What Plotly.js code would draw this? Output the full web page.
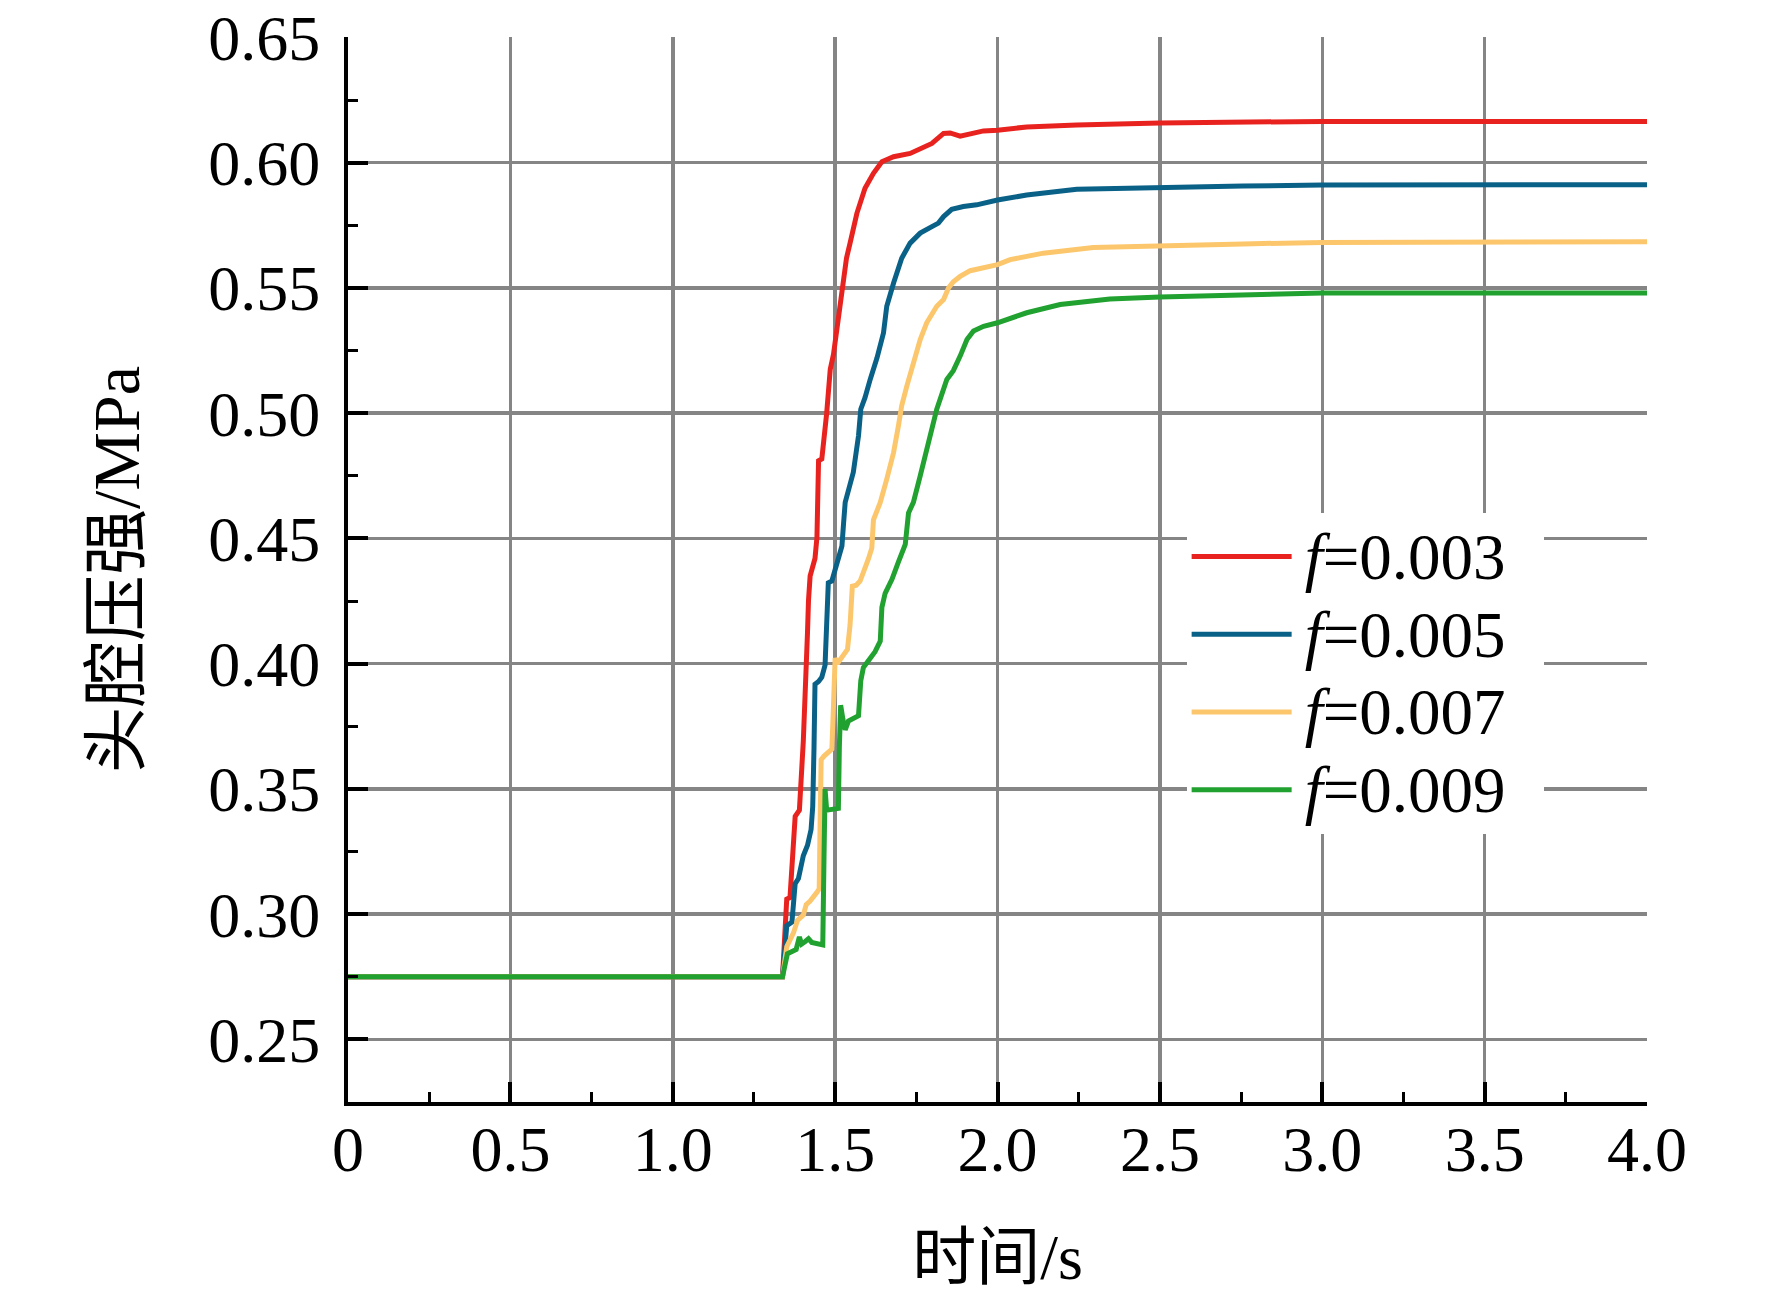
<!DOCTYPE html>
<html>
<head>
<meta charset="utf-8">
<script src="https://cdn.plot.ly/plotly-3.0.1.min.js"></script>
<style>
  html, body { margin: 0; padding: 0; background: #fff; }
  #chart { width: 1772px; height: 1296px; }
</style>
</head>
<body>
<div id="chart"></div>
<script>
// ── data ─────────────────────────────────────────────────────────────────────
const LABELS = ['0.003', '0.005', '0.007', '0.009'];
const COLORS = ['#e8231f', '#0a6187', '#fcc76c', '#21a12f'];

const t003 = [0, 1.338, 1.351, 1.361, 1.377, 1.390, 1.402, 1.408, 1.415, 1.418, 1.423, 1.438, 1.444, 1.449, 1.459, 1.474, 1.485, 1.495, 1.503, 1.513, 1.525, 1.535, 1.546, 1.567, 1.592, 1.618, 1.644, 1.680, 1.731, 1.798, 1.834, 1.854, 1.885, 1.916, 1.957, 2.0, 2.09, 2.244, 2.5, 3.0, 4.0];
const p003 = [0.275, 0.275, 0.306, 0.3066, 0.339, 0.3415, 0.369, 0.386, 0.4127, 0.4253, 0.435, 0.442, 0.4504, 0.481, 0.4817, 0.500, 0.5175, 0.5235, 0.5308, 0.5387, 0.5493, 0.5619, 0.5679, 0.5798, 0.5898, 0.5958, 0.6004, 0.6024, 0.6037, 0.6077, 0.6117, 0.6119, 0.6106, 0.6117, 0.6127, 0.613, 0.6143, 0.6151, 0.6159, 0.6165, 0.6165];

const t005 = [0, 1.338, 1.351, 1.367, 1.377, 1.387, 1.402, 1.415, 1.426, 1.431, 1.435, 1.438, 1.449, 1.459, 1.469, 1.474, 1.479, 1.490, 1.5, 1.510, 1.521, 1.526, 1.531, 1.556, 1.572, 1.579, 1.592, 1.608, 1.629, 1.649, 1.659, 1.680, 1.705, 1.731, 1.762, 1.798, 1.818, 1.834, 1.859, 1.895, 1.936, 2.0, 2.09, 2.244, 2.5, 2.756, 3.0, 4.0];
const p005 = [0.275, 0.275, 0.2954, 0.2968, 0.3122, 0.3142, 0.3233, 0.3275, 0.3338, 0.3429, 0.3666, 0.3918, 0.3929, 0.3946, 0.3994, 0.4225, 0.4323, 0.433, 0.4372, 0.442, 0.447, 0.456, 0.4644, 0.4764, 0.491, 0.5016, 0.5062, 0.5135, 0.5221, 0.5321, 0.5427, 0.552, 0.5619, 0.5679, 0.5719, 0.5745, 0.5759, 0.5785, 0.5814, 0.5825, 0.5832, 0.5851, 0.5871, 0.5894, 0.5902, 0.5907, 0.5911, 0.5912];

const t007 = [0, 1.338, 1.351, 1.372, 1.384, 1.402, 1.411, 1.423, 1.444, 1.451, 1.454, 1.457, 1.466, 1.490, 1.495, 1.5, 1.507, 1.524, 1.538, 1.546, 1.553, 1.565, 1.577, 1.603, 1.613, 1.618, 1.628, 1.639, 1.659, 1.680, 1.695, 1.705, 1.721, 1.741, 1.762, 1.782, 1.813, 1.834, 1.849, 1.864, 1.885, 1.916, 1.957, 2.0, 2.039, 2.141, 2.295, 2.5, 2.756, 3.0, 4.0];
const p007 = [0.275, 0.275, 0.287, 0.2926, 0.2975, 0.2996, 0.3038, 0.3052, 0.3087, 0.3101, 0.3387, 0.3617, 0.3631, 0.3659, 0.3834, 0.4022, 0.4001, 0.4029, 0.4057, 0.4155, 0.4309, 0.4313, 0.433, 0.442, 0.4462, 0.4574, 0.4602, 0.4644, 0.4737, 0.4843, 0.495, 0.503, 0.5109, 0.5202, 0.5294, 0.5361, 0.5427, 0.5454, 0.55, 0.5525, 0.5546, 0.5569, 0.558, 0.5593, 0.5613, 0.5639, 0.5662, 0.567, 0.5676, 0.5682, 0.5685];

const t009 = [0, 1.338, 1.353, 1.367, 1.380, 1.390, 1.397, 1.408, 1.418, 1.428, 1.444, 1.462, 1.466, 1.469, 1.474, 1.485, 1.510, 1.513, 1.517, 1.524, 1.531, 1.541, 1.572, 1.579, 1.587, 1.603, 1.623, 1.639, 1.644, 1.654, 1.675, 1.695, 1.716, 1.726, 1.741, 1.762, 1.782, 1.813, 1.844, 1.864, 1.885, 1.906, 1.926, 1.957, 2.0, 2.09, 2.193, 2.346, 2.5, 2.756, 3.0, 4.0];
const p009 = [0.275, 0.275, 0.2842, 0.2849, 0.2859, 0.2909, 0.2881, 0.2891, 0.2902, 0.2887, 0.2881, 0.2877, 0.3247, 0.3499, 0.3415, 0.3418, 0.3422, 0.3666, 0.3834, 0.3778, 0.3736, 0.3771, 0.3792, 0.3932, 0.3985, 0.4013, 0.4048, 0.409, 0.4225, 0.4281, 0.4337, 0.4406, 0.4476, 0.4602, 0.4644, 0.475, 0.4857, 0.5016, 0.5135, 0.517, 0.5228, 0.5294, 0.5328, 0.5347, 0.5361, 0.5401, 0.5434, 0.5456, 0.5464, 0.5472, 0.548, 0.548];

const xTickVals = [0, 0.5, 1.0, 1.5, 2.0, 2.5, 3.0, 3.5, 4.0];
const xTickText = ['0', '0.5', '1.0', '1.5', '2.0', '2.5', '3.0', '3.5', '4.0'];
const yTickVals = [0.25, 0.30, 0.35, 0.40, 0.45, 0.50, 0.55, 0.60, 0.65];

const X_TITLE = '时间/s';
const Y_TITLE = '头腔压强/MPa';

// ── chart ─────────────────────────────────────────────────────────────────────
const FONT = 'Liberation Serif, Times New Roman, Noto Sans CJK SC, serif';
const series = [[t003, p003], [t005, p005], [t007, p007], [t009, p009]];

// legend text is drawn bigger than the legend font so rows stay tight;
// the small thin space pushes the text off the line sample
const legendName = v =>
  `<span style="font-size:40px">\u2009</span><span style="font-size:65px"><i>f</i>=${v}\u00a0\u00a0</span>`;

const traces = series.map(([xs, ys], i) => ({
  x: xs, y: ys,
  mode: 'lines', name: legendName(LABELS[i]),
  line: { color: COLORS[i], width: 5 },
}));

const axisCommon = {
  showline: true, linecolor: '#000', linewidth: 4,
  ticks: 'inside', ticklen: 20, tickwidth: 4, tickcolor: '#000',
  showgrid: true, gridcolor: '#858585', gridwidth: 3.5,
  zeroline: false, mirror: false,
  ticklabeloverflow: 'allow',
  tickfont: { family: FONT, size: 64, color: '#000' },
};

Plotly.newPlot('chart', traces, {
  width: 1772, height: 1296,
  paper_bgcolor: '#fff', plot_bgcolor: '#fff',
  font: { family: FONT, color: '#000', size: 63 },
  margin: { l: 348, r: 125, t: 37, b: 194 },
  showlegend: true,
  legend: {
    x: 0.6456, y: 0.5535, xanchor: 'left', yanchor: 'top',
    bgcolor: '#fff', borderwidth: 0,
    font: { family: FONT, size: 57.5, color: '#000' },
    itemwidth: 100,
  },
  xaxis: {
    ...axisCommon,
    range: [0, 4.0],
    tickvals: xTickVals, ticktext: xTickText,
    ticklabelstandoff: -12,
    minor: { dtick: 0.25, ticks: 'inside', ticklen: 10, tickwidth: 3, tickcolor: '#000', showgrid: false },
    title: { text: X_TITLE, standoff: 51, font: { family: FONT, size: 64, color: '#000' } },
  },
  yaxis: {
    ...axisCommon,
    range: [0.225, 0.6502],
    tickvals: yTickVals, tickformat: '.2f',
    ticklabelstandoff: 11,
    minor: { dtick: 0.025, ticks: 'inside', ticklen: 10, tickwidth: 3, tickcolor: '#000', showgrid: false },
    title: { text: Y_TITLE, standoff: 48, font: { family: FONT, size: 66, color: '#000' } },
  },
}, { displayModeBar: false, staticPlot: true });
</script>
</body>
</html>
